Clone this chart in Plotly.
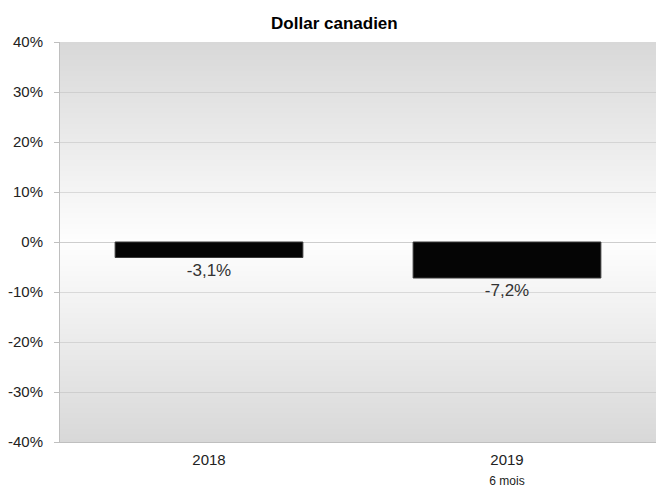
import base64
import struct
import zlib
import plotly.graph_objects as go

# Data
categories = ["2018", "2019<br><span style='font-size:12px'>6 mois</span>"]
values = [-3.1, -7.2]
y_ticks = [-40, -30, -20, -10, 0, 10, 20, 30, 40]
y_tick_labels = ["-40%", "-30%", "-20%", "-10%", "0%", "10%", "20%", "30%", "40%"]
title_text = "Dollar canadien"


def gradient_png(height=400):
    """1px-wide vertical gradient: gray at the edges, white in the middle."""
    rows = b""
    for i in range(height):
        t = abs((i + 0.5) / height - 0.5) * 2.0
        v = int(round(254 - (254 - 216) * t))
        rows += b"\x00" + bytes([v, v, v])

    def chunk(tag, data):
        c = struct.pack(">I", len(data)) + tag + data
        return c + struct.pack(">I", zlib.crc32(tag + data) & 0xFFFFFFFF)

    png = b"\x89PNG\r\n\x1a\n"
    png += chunk(b"IHDR", struct.pack(">IIBBBBB", 1, height, 8, 2, 0, 0, 0))
    png += chunk(b"IDAT", zlib.compress(rows))
    png += chunk(b"IEND", b"")
    return "data:image/png;base64," + base64.b64encode(png).decode()


fig = go.Figure()
fig.add_trace(go.Bar(
    x=categories,
    y=values,
    width=0.63,
    marker=dict(color="#050505", line=dict(color="#3a3a3a", width=1)),
    texttemplate="%{y:.1f}%",
    textposition="outside",
    textfont=dict(size=17, color="#333333", family="Liberation Sans, Arial, sans-serif"),
    cliponaxis=False,
    hoverinfo="skip",
))

fig.update_layout(
    width=657, height=487,
    margin=dict(l=60, r=1, t=42, b=45),
    paper_bgcolor="white",
    plot_bgcolor="rgba(0,0,0,0)",
    separators=", ",
    font=dict(family="Liberation Sans, Arial, sans-serif", size=15, color="#222222"),
    title=dict(text=f"<b>{title_text}</b>", x=0.509, xanchor="center", y=0.953, yanchor="middle",
               font=dict(size=17, color="#000000")),
    showlegend=False,
    images=[dict(
        source=gradient_png(), xref="paper", yref="paper",
        x=0, y=1, sizex=1, sizey=1, xanchor="left", yanchor="top",
        sizing="stretch", layer="below",
    )],
)
fig.update_yaxes(
    range=[-40, 40],
    tickmode="array", tickvals=y_ticks, ticktext=y_tick_labels,
    showgrid=True, gridcolor="rgba(185,185,185,0.45)", gridwidth=1,
    zeroline=True, zerolinecolor="rgba(185,185,185,0.7)", zerolinewidth=1,
    showline=True, linecolor="#bfbfbf", linewidth=1,
    ticks="outside", ticklen=5, tickcolor="#bfbfbf",
    ticklabelstandoff=8, automargin=False,
    tickfont=dict(size=15, color="#222222"),
)
fig.update_xaxes(
    showline=True, linecolor="#bfbfbf", linewidth=1,
    ticks="", tickfont=dict(size=15, color="#222222"),
    ticklabelstandoff=4, automargin=False,
    showgrid=False,
)

fig.write_html("out.html", config={"displayModeBar": False},
               post_script="document.body.style.margin='0';")
